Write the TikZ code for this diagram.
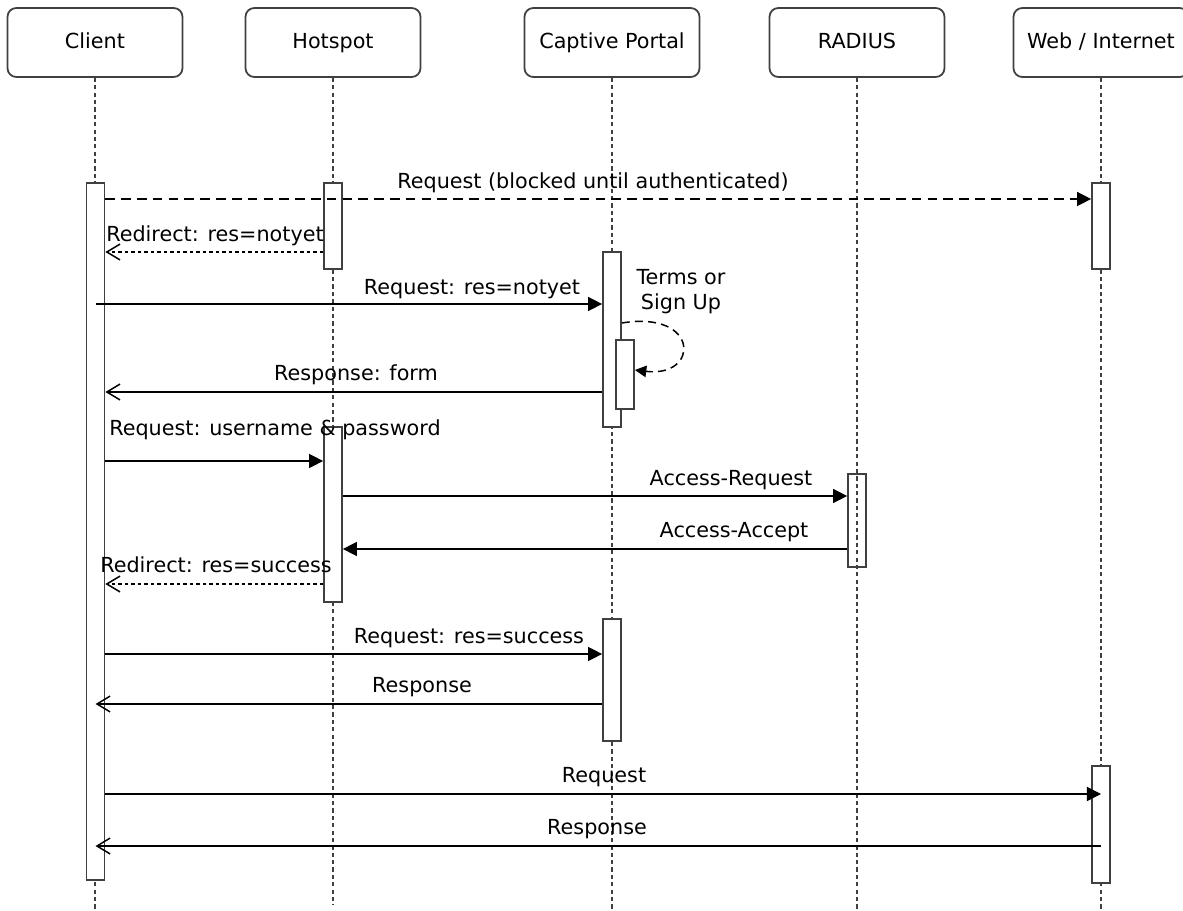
\documentclass[tikz,border=0pt]{standalone}
\usepackage{fontspec}
\setmainfont{DejaVu Sans}
\usetikzlibrary{arrows.meta}

\begin{document}
\begin{tikzpicture}[x=0.02cm,y=-0.02cm,
  every node/.style={font=\fontsize{11.8}{14.2}\selectfont},
  head/.style={draw=black!75,line width=1pt,rounded corners=5pt,minimum width=3.5cm,minimum height=1.38cm,text height=1.6ex,text depth=0.4ex},
  life/.style={black!75,line width=1pt,dash pattern=on 2.4pt off 1.8pt},
  bar/.style={draw=black!75,fill=white,line width=1pt,minimum width=0.36cm,inner sep=0pt},
  msg/.style={line width=0.85pt,-{Triangle[length=8pt,width=8pt]}},
  ret/.style={line width=0.85pt,-{Straight Barb[length=7.5pt,width=9pt]}},
  lbl/.style={inner sep=0pt}]
\useasboundingbox (0,0) rectangle (1183,911);

\node[head] (client) at (95,42.5) {Client};
\node[head] (hotspot) at (333,42.5) {Hotspot};
\node[head] (portal) at (612,42.5) {Captive Portal};
\node[head] (radius) at (857,42.5) {RADIUS};
\node[head] (web) at (1101,42.5) {Web / Internet};

\draw[life] (client.south) -- (client |- 0,911);
\draw[life] (hotspot.south) -- (hotspot |- 0,905);
\draw[life] (portal.south) -- (portal |- 0,911);
\draw[life] (radius.south) -- (radius |- 0,911);
\draw[life] (web.south) -- (web |- 0,911);

\node[bar,minimum height=13.94cm] (cbar) at (95.5,531.5) {};
\node[bar,minimum height=1.72cm] (hbar1) at (333,226) {};
\node[bar,minimum height=1.72cm] (wbar1) at (1101,226) {};
\node[bar,minimum height=3.5cm] (pbar1) at (612,339.5) {};
\node[bar,minimum height=1.38cm] (pbar2) at (625,374.5) {};
\node[bar,minimum height=3.5cm] (hbar2) at (333,514.5) {};
\node[bar,fill=none,minimum height=1.86cm] (rbar) at (857,520.5) {};
\node[bar,minimum height=2.44cm] (pbar3) at (612,680) {};
\node[bar,minimum height=2.34cm] (wbar2) at (1101,824.5) {};

\draw[msg,dash pattern=on 5.5pt off 3.5pt] (cbar.east |- 0,199) -- (wbar1.west |- 0,199);
\node[lbl] (t1) at (593,183) {Request (blocked until authenticated)};
\draw[ret,dash pattern=on 2pt off 1.7pt] (hbar1.west |- 0,252) -- (cbar.east |- 0,252);
\node[lbl] (t2) at (215,236) {Redirect: res=notyet};
\draw[msg] (cbar |- 0,304) -- (pbar1.west |- 0,304);
\node[lbl] (t3) at (472,289) {Request: res=notyet};
\draw[line width=0.85pt,dash pattern=on 4.5pt off 3pt,-{Triangle[length=6.5pt,width=6.5pt]}]
  (pbar1.east |- 0,323) .. controls (700,310) and (700,378) .. (pbar2.east |- 0,370);
\node[lbl,align=center] (t4) at (681,292) {Terms or\\Sign Up};
\draw[ret] (pbar1.west |- 0,392) -- (cbar.east |- 0,392);
\node[lbl] (t5) at (356,375) {Response: form};
\draw[msg] (cbar.east |- 0,461) -- (hbar2.west |- 0,461);
\node[lbl] (t6) at (275,430) {Request: username \& password};
\draw[msg] (hbar2.east |- 0,496) -- (rbar.west |- 0,496);
\node[lbl] (t7) at (731,480) {Access-Request};
\draw[msg] (rbar.west |- 0,549) -- (hbar2.east |- 0,549);
\node[lbl] (t8) at (734,532) {Access-Accept};
\draw[ret,dash pattern=on 2pt off 1.7pt] (hbar2.west |- 0,584) -- (cbar.east |- 0,584);
\node[lbl] (t9) at (216,565) {Redirect: res=success};
\draw[msg] (cbar.east |- 0,654) -- (pbar3.west |- 0,654);
\node[lbl] (t10) at (469,638) {Request: res=success};
\draw[ret] (pbar3.west |- 0,704) -- (cbar |- 0,704);
\node[lbl] (t11) at (422,687) {Response};
\draw[msg] (cbar.east |- 0,794) -- (wbar2 |- 0,794);
\node[lbl] (t12) at (604,777) {Request};
\draw[ret] (wbar2 |- 0,846) -- (cbar |- 0,846);
\node[lbl] (t13) at (597,829) {Response};
\end{tikzpicture}
\end{document}
